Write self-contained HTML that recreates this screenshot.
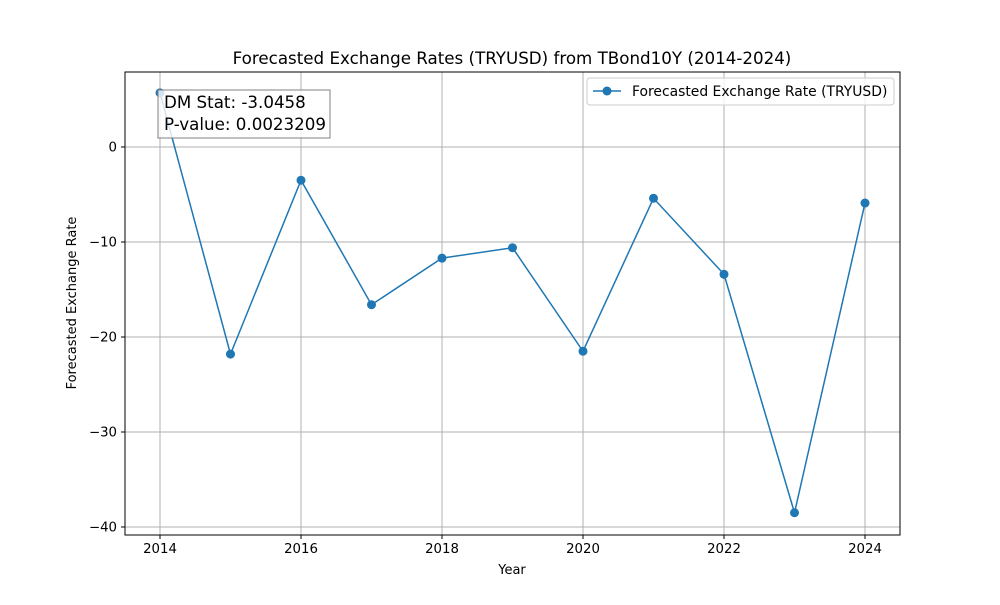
<!DOCTYPE html>
<html><head><meta charset="utf-8"><style>
html,body{margin:0;padding:0;background:#fff;}
svg text{font-family:"DejaVu Sans","Liberation Sans",sans-serif;fill:#000;}
</style></head><body>
<svg id="chart" width="1000" height="600" viewBox="0 0 1000 600">
<rect x="0" y="0" width="1000" height="600" fill="#fff"/>
<text x="512" y="64" font-size="16.7" text-anchor="middle">Forecasted Exchange Rates (TRYUSD) from TBond10Y (2014-2024)</text>
<g id="grid"></g>
<g id="ticks"></g>
<g id="series"></g>
<rect x="125" y="72" width="775" height="463" fill="none" stroke="#000" stroke-width="1"/>
<text x="512" y="574" font-size="13" text-anchor="middle">Year</text>
<text transform="translate(76,303) rotate(-90)" font-size="13" text-anchor="middle">Forecasted Exchange Rate</text>
<g>
<rect x="158" y="90" width="172" height="48" fill="#fff" fill-opacity="0.8" stroke="#808080" stroke-width="1"/>
<text x="164" y="108" font-size="16.7">DM Stat: -3.0458</text>
<text x="164" y="130" font-size="16.7">P-value: 0.0023209</text>
</g>
<g>
<rect x="587" y="78" width="307" height="27" rx="3" fill="#fff" fill-opacity="0.8" stroke="#ccc"/>
<line x1="593" y1="91" x2="621" y2="91" stroke="#1f77b4" stroke-width="1.5"/>
<circle cx="607" cy="91" r="4.5" fill="#1f77b4"/>
<text x="632" y="96" font-size="13.9">Forecasted Exchange Rate (TRYUSD)</text>
</g>
</svg>
<script>
const years=[2014,2015,2016,2017,2018,2019,2020,2021,2022,2023,2024];
const values=[5.7,-21.8,-3.5,-16.6,-11.7,-10.6,-21.5,-5.4,-13.4,-38.5,-5.9];
const xTicks=[2014,2016,2018,2020,2022,2024];
const yTicks=[0,-10,-20,-30,-40];
const NS="http://www.w3.org/2000/svg";
const X=v=>160+(v-2014)*70.5;
const Y=v=>147-v*9.5;
function mk(t,a,p){const e=document.createElementNS(NS,t);for(const k in a)e.setAttribute(k,a[k]);p.appendChild(e);return e;}
const grid=document.getElementById('grid'),ticks=document.getElementById('ticks'),ser=document.getElementById('series');
xTicks.forEach(t=>{const x=X(t);
const g=mk('line',{x1:x,y1:72,x2:x,y2:535,stroke:'#b0b0b0','stroke-width':1},grid);

mk('line',{x1:x,y1:535,x2:x,y2:539,stroke:'#000'},ticks);
const l=mk('text',{x:x,y:553,'font-size':13.3,'text-anchor':'middle'},ticks);l.textContent=t;
});
yTicks.forEach(t=>{const y=Y(t);
const g=mk('line',{x1:125,y1:y,x2:900,y2:y,stroke:'#b0b0b0','stroke-width':1},grid);

mk('line',{x1:121,y1:y,x2:125,y2:y,stroke:'#000'},ticks);
const l=mk('text',{x:117,y:y+4.5,'font-size':13.3,'text-anchor':'end'},ticks);l.textContent=t<0?'\u2212'+(-t):t;
});
const pl=mk('polyline',{points:years.map((y,i)=>X(y)+','+Y(values[i])).join(' '),fill:'none',stroke:'#1f77b4','stroke-width':1.5},ser);

years.forEach((y,i)=>{const c=mk('circle',{cx:X(y),cy:Y(values[i]),r:4.5,fill:'#1f77b4'},ser);
});
</script>
</body></html>
